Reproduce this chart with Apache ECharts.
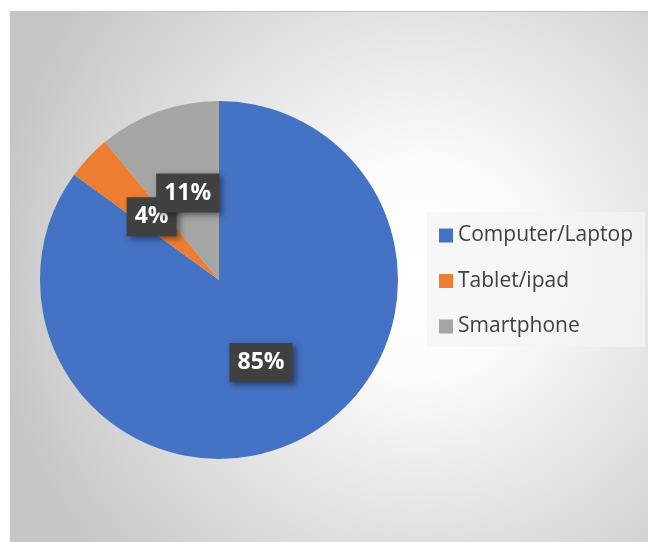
<!DOCTYPE html>
<html>
<head>
<meta charset="utf-8">
<script src="https://cdn.jsdelivr.net/npm/echarts@6/dist/echarts.min.js"></script>
<style>
  html, body { margin: 0; padding: 0; background: #fff; }
  #chart { width: 648px; height: 542px; }
</style>
</head>
<body>
<div id="chart"></div>
<script>
// device usage shares
var categories = ['Computer/Laptop', 'Tablet/ipad', 'Smartphone'];
var shares = [85, 4, 11];
var colors = ['#4472C4', '#ED7D31', '#A5A5A5'];

var chart = echarts.init(document.getElementById('chart'));

var pieData = [];
categories.forEach(function (name, i) {
  pieData.push({ name: name, value: shares[i], itemStyle: { color: colors[i] } });
});

var option = {
  animation: false,
  graphic: [
    {
      type: 'rect',
      z: -10,
      shape: { x: 10.5, y: 11.5, width: 640, height: 534 },
      style: {
        fill: new echarts.graphic.RadialGradient(420, 270, 430, [
          { offset: 0, color: '#ffffff' },
          { offset: 0.25, color: '#fbfbfb' },
          { offset: 1, color: '#c6c6c6' }
        ], true),
        stroke: '#c3c3c3',
        lineWidth: 1
      }
    },
    {
      // legend box
      type: 'rect',
      z: -5,
      shape: { x: 427, y: 212, width: 218, height: 135 },
      style: { fill: 'rgba(244,244,244,0.75)' }
    }
  ],
  legend: {
    orient: 'vertical',
    left: 439,
    top: 225,
    padding: 0,
    itemWidth: 14,
    itemHeight: 14,
    itemGap: 24.5,
    icon: 'rect',
    textStyle: {
      fontFamily: 'Open Sans',
      fontSize: 21,
      lineHeight: 20,
      color: '#404040'
    },
    data: categories
  },
  series: [
    {
      type: 'pie',
      center: [219, 280],
      radius: 179,
      startAngle: 90,
      clockwise: true,
      data: pieData,
      label: {
        show: true,
        position: 'inside',
        formatter: '{d}%',
        fontFamily: 'Open Sans',
        fontWeight: 'bold',
        fontSize: 23,
        color: '#ffffff',
        backgroundColor: '#404040',
        padding: [8, 8],
        shadowColor: 'rgba(0,0,0,0.45)',
        shadowBlur: 6,
        shadowOffsetX: 3,
        shadowOffsetY: 3
      },
      labelLayout: { hideOverlap: false },
      labelLine: { show: false },
      emphasis: { disabled: true }
    }
  ]
};

chart.setOption(option);
</script>
</body>
</html>
